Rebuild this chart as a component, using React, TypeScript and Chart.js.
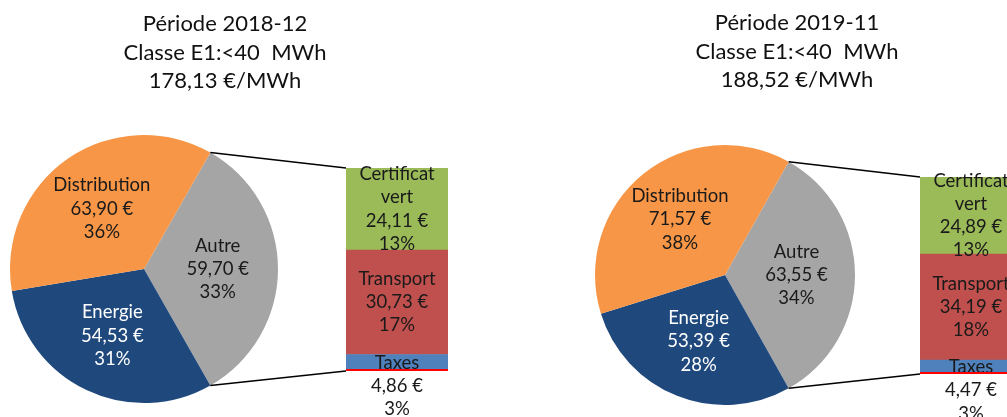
import React, { useEffect, useRef } from 'react';
import { Chart, registerables } from 'chart.js';

Chart.register(...registerables);

// ---------- DATA ----------
const PIE_CATEGORIES = ['Autre', 'Energie', 'Distribution'];
const BAR_CATEGORY_LINES = [['Certificat', 'vert'], ['Transport'], ['Taxes']]; // top to bottom

const LEFT_TITLE = ['Période 2018-12', 'Classe E1:<40  MWh', '178,13 €/MWh'];
const LEFT_PIE_VALUES = [59.7, 54.53, 63.9];
const LEFT_PIE_PCT = ['33%', '31%', '36%'];
const LEFT_BAR_VALUES = [24.11, 30.73, 4.86];
const LEFT_BAR_PCT = ['13%', '17%', '3%'];

const RIGHT_TITLE = ['Période 2019-11', 'Classe E1:<40  MWh', '188,52 €/MWh'];
const RIGHT_PIE_VALUES = [63.55, 53.39, 71.57];
const RIGHT_PIE_PCT = ['34%', '28%', '38%'];
const RIGHT_BAR_VALUES = [24.89, 34.19, 4.47];
const RIGHT_BAR_PCT = ['13%', '18%', '3%'];

// ---------- STYLE ----------
const FONT = 'Lato, "Liberation Sans", sans-serif';
const PIE_COLORS = ['#A5A5A5', '#1F497D', '#F79646'];
const PIE_TEXT_COLORS = ['#1a1a1a', '#ffffff', '#1a1a1a'];
const BAR_COLORS = ['#9BBB59', '#C0504D', '#4F81BD'];
const LABEL_SIZE = 18.5;
const LABEL_LH = 23.3;
const TITLE_SIZE = 22;
const TITLE_LH = 28.5;

const fmtEuro = (v: number) => v.toFixed(2).replace('.', ',') + ' €';

type Box = { left: number; top: number; w: number; h: number };
type PanelCfg = {
  title: string[];
  pieValues: number[];
  piePct: string[];
  barValues: number[];
  barPct: string[];
  pieCanvas: Box;
  piePad: { left: number; right: number; top: number; bottom: number };
  titleTop: number;
  barCanvas: Box;
  barPad: { left: number; right: number; top: number; bottom: number };
};

const PANELS: PanelCfg[] = [
  {
    title: LEFT_TITLE,
    pieValues: LEFT_PIE_VALUES,
    piePct: LEFT_PIE_PCT,
    barValues: LEFT_BAR_VALUES,
    barPct: LEFT_BAR_PCT,
    pieCanvas: { left: 0, top: 0, w: 450, h: 417 },
    piePad: { left: 10, right: 172, top: 135, bottom: 14 },
    titleTop: 24,
    barCanvas: { left: 326, top: 130, w: 142, h: 287 },
    barPad: { left: 20, right: 20, top: 38, bottom: 46 },
  },
  {
    title: RIGHT_TITLE,
    pieValues: RIGHT_PIE_VALUES,
    piePct: RIGHT_PIE_PCT,
    barValues: RIGHT_BAR_VALUES,
    barPct: RIGHT_BAR_PCT,
    pieCanvas: { left: 587, top: 0, w: 420, h: 417 },
    piePad: { left: 8, right: 152, top: 145, bottom: 12 },
    titleTop: 23,
    barCanvas: { left: 900, top: 130, w: 142, h: 287 },
    barPad: { left: 20, right: 20, top: 47, bottom: 43 },
  },
];

function drawLines(ctx: CanvasRenderingContext2D, lines: string[], x: number, cy: number, color: string) {
  ctx.save();
  ctx.fillStyle = color;
  ctx.font = `${LABEL_SIZE}px ${FONT}`;
  ctx.textAlign = 'center';
  ctx.textBaseline = 'middle';
  const start = cy - ((lines.length - 1) * LABEL_LH) / 2;
  lines.forEach((l, i) => ctx.fillText(l, x, start + i * LABEL_LH));
  ctx.restore();
}

function buildPanel(cfg: PanelCfg, pieEl: HTMLCanvasElement, barEl: HTMLCanvasElement) {
  const barTotal = cfg.barValues.reduce((a, b) => a + b, 0);
  const pieTotal = cfg.pieValues.reduce((a, b) => a + b, 0);
  // stacked bar: first dataset at bottom, so reverse top-to-bottom order
  const order = cfg.barValues.map((_, i) => i).reverse();

  const barLabels = {
    id: 'barLabels',
    afterDatasetsDraw(chart: any) {
      const ctx = chart.ctx;
      chart.data.datasets.forEach((ds: any, di: number) => {
        const idx = ds._idx as number;
        const el = chart.getDatasetMeta(di).data[0] as any;
        const top = Math.min(el.y, el.base);
        const bottom = Math.max(el.y, el.base);
        const segH = bottom - top;
        const lines = [...BAR_CATEGORY_LINES[idx], fmtEuro(cfg.barValues[idx]), cfg.barPct[idx]];
        const mid = (top + bottom) / 2;
        let cy = mid;
        if (segH < LABEL_LH) cy = mid + ((lines.length - 1) * LABEL_LH) / 2;
        drawLines(ctx, lines, el.x, cy, '#1a1a1a');
      });
      // thin red line at bar base
      const y0 = chart.scales.y.getPixelForValue(0);
      ctx.save();
      ctx.strokeStyle = '#FF0000';
      ctx.lineWidth = 2;
      ctx.beginPath();
      ctx.moveTo(chart.chartArea.left, y0 - 1);
      ctx.lineTo(chart.chartArea.right, y0 - 1);
      ctx.stroke();
      ctx.restore();
    },
  };

  const barChart = new Chart(barEl, {
    type: 'bar',
    data: {
      labels: [''],
      datasets: order.map((i) => ({
        label: BAR_CATEGORY_LINES[i].join(' '),
        data: [cfg.barValues[i]],
        backgroundColor: BAR_COLORS[i],
        borderWidth: 0,
        barPercentage: 1,
        categoryPercentage: 1,
        _idx: i,
      })) as any,
    },
    options: {
      animation: false,
      responsive: false,
      events: [],
      layout: { padding: cfg.barPad },
      plugins: { legend: { display: false }, tooltip: { enabled: false }, title: { display: false } },
      scales: {
        x: { display: false, stacked: true },
        y: { display: false, stacked: true, min: 0, max: barTotal },
      },
    },
    plugins: [barLabels],
  });

  const pieDecor = {
    id: 'pieDecor',
    afterDatasetsDraw(chart: any) {
      const ctx = chart.ctx;
      const meta = chart.getDatasetMeta(0);
      meta.data.forEach((arc: any, i: number) => {
        const mid = (arc.startAngle + arc.endAngle) / 2;
        const r = arc.outerRadius * 0.55;
        const x = arc.x + Math.cos(mid) * r;
        const y = arc.y + Math.sin(mid) * r;
        drawLines(ctx, [PIE_CATEGORIES[i], fmtEuro(cfg.pieValues[i]), cfg.piePct[i]], x, y, PIE_TEXT_COLORS[i]);
      });
      // title
      ctx.save();
      ctx.fillStyle = '#111111';
      ctx.font = `${TITLE_SIZE}px ${FONT}`;
      ctx.textAlign = 'center';
      ctx.textBaseline = 'middle';
      cfg.title.forEach((t, i) => ctx.fillText(t, chart.width / 2, cfg.titleTop + i * TITLE_LH));
      ctx.restore();
      // connector lines from "Autre" slice to bar
      const autre = meta.data[0] as any;
      const R = autre.outerRadius;
      const p1 = { x: autre.x + Math.cos(autre.startAngle) * R, y: autre.y + Math.sin(autre.startAngle) * R };
      const p2 = { x: autre.x + Math.cos(autre.endAngle) * R, y: autre.y + Math.sin(autre.endAngle) * R };
      const nDs = barChart.data.datasets.length;
      const topEl = barChart.getDatasetMeta(nDs - 1).data[0] as any;
      const botEl = barChart.getDatasetMeta(0).data[0] as any;
      const dx = cfg.barCanvas.left - cfg.pieCanvas.left;
      const dy = cfg.barCanvas.top - cfg.pieCanvas.top;
      const bx = topEl.x - topEl.width / 2 + dx;
      ctx.save();
      ctx.strokeStyle = '#000000';
      ctx.lineWidth = 1.5;
      ctx.beginPath();
      ctx.moveTo(p1.x, p1.y);
      ctx.lineTo(bx, topEl.y + dy);
      ctx.moveTo(p2.x, p2.y);
      ctx.lineTo(bx, botEl.base + dy);
      ctx.stroke();
      ctx.restore();
    },
  };

  const autreAngle = (cfg.pieValues[0] / pieTotal) * 360;
  const pieChart = new Chart(pieEl, {
    type: 'pie',
    data: {
      labels: PIE_CATEGORIES,
      datasets: [
        {
          data: cfg.pieValues,
          backgroundColor: PIE_COLORS,
          borderWidth: 0,
        },
      ],
    },
    options: {
      animation: false,
      responsive: false,
      events: [],
      rotation: 90 - autreAngle / 2,
      layout: { padding: cfg.piePad },
      plugins: { legend: { display: false }, tooltip: { enabled: false }, title: { display: false } },
    },
    plugins: [pieDecor],
  });

  return [barChart, pieChart];
}

export default function App() {
  const refs = useRef<(HTMLCanvasElement | null)[]>([]);

  useEffect(() => {
    const charts: Chart[] = [];
    PANELS.forEach((cfg, i) => {
      const pieEl = refs.current[i * 2];
      const barEl = refs.current[i * 2 + 1];
      if (pieEl && barEl) charts.push(...(buildPanel(cfg, pieEl, barEl) as Chart[]));
    });
    return () => charts.forEach((c) => c.destroy());
  }, []);

  const canvasStyle = (b: Box): React.CSSProperties => ({
    position: 'absolute',
    left: b.left,
    top: b.top,
    width: b.w,
    height: b.h,
  });

  return (
    <div
      style={{
        position: 'fixed',
        left: 0,
        top: 0,
        width: 1007,
        height: 417,
        overflow: 'hidden',
        background: '#ffffff',
      }}
    >
      {PANELS.map((cfg, i) => (
        <React.Fragment key={i}>
          <canvas
            ref={(el) => {
              refs.current[i * 2] = el;
            }}
            width={cfg.pieCanvas.w}
            height={cfg.pieCanvas.h}
            style={{ ...canvasStyle(cfg.pieCanvas), zIndex: 1 }}
          />
          <canvas
            ref={(el) => {
              refs.current[i * 2 + 1] = el;
            }}
            width={cfg.barCanvas.w}
            height={cfg.barCanvas.h}
            style={{ ...canvasStyle(cfg.barCanvas), zIndex: 2 }}
          />
        </React.Fragment>
      ))}
    </div>
  );
}
